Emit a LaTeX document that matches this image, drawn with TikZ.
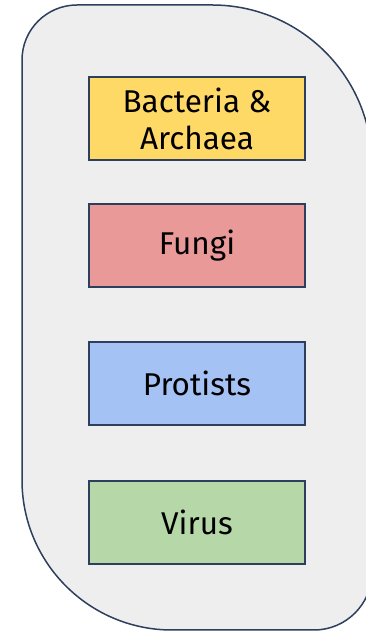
\documentclass[tikz,border=0pt]{standalone}
\usepackage{fontspec}
\setmainfont{Fira Sans}
\definecolor{edge}{HTML}{2E3F5E}
\definecolor{panel}{HTML}{EEEEEE}
\definecolor{cyellow}{HTML}{FFD966}
\definecolor{cpink}{HTML}{EA9999}
\definecolor{cblue}{HTML}{A4C2F4}
\definecolor{cgreen}{HTML}{B6D7A8}
\begin{document}
\begin{tikzpicture}[x=1pt,y=1pt,
  box/.style={draw=edge,line width=1.5pt,minimum width=216pt,minimum height=83pt,
    inner sep=0pt,font=\fontsize{31.5}{37}\selectfont,align=center,text=black}]
\useasboundingbox (0,0) rectangle (366,631);
\begin{scope}
\clip (0,0) rectangle (366,631);
\filldraw[fill=panel,draw=edge,line width=1.5pt]
  (77,626) -- (212,626) arc[start angle=90,end angle=0,radius=160]
  -- (372,59) arc[start angle=0,end angle=-90,radius=58]
  -- (172,1) arc[start angle=270,end angle=180,radius=150]
  -- (22,571) arc[start angle=180,end angle=90,radius=55] -- cycle;
\end{scope}
\node[box,fill=cyellow] (bact) at (197,512.5) {Bacteria \&\\Archaea};
\node[box,fill=cpink] (fungi) at (197,385.5) {Fungi};
\node[box,fill=cblue] (prot) at (197,247.5) {Protists};
\node[box,fill=cgreen] (virus) at (197,108.5) {Virus};
\end{tikzpicture}
\end{document}
